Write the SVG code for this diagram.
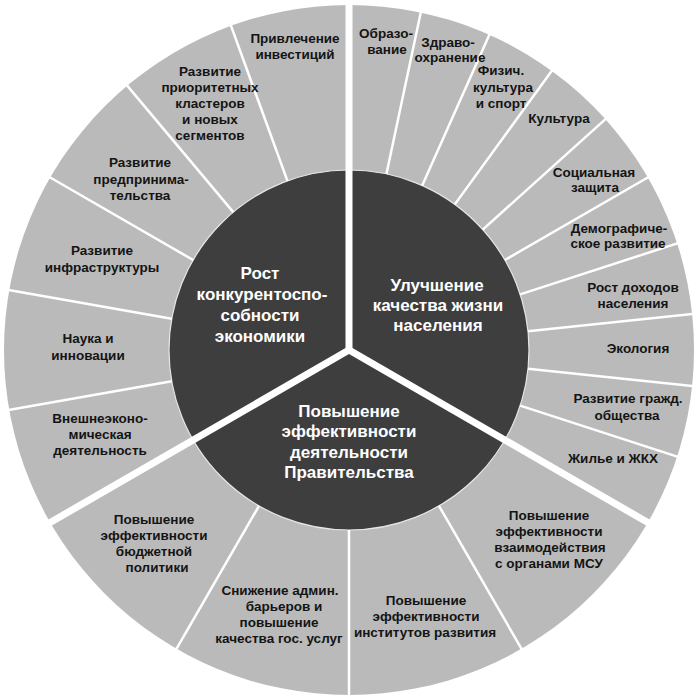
<svg xmlns="http://www.w3.org/2000/svg" width="697" height="700" viewBox="0 0 697 700">
<style>
.ring{fill:#bababa}
.core{fill:#3e3e3e;stroke:#e6e6e6;stroke-width:1.2}
.thin{stroke:#ffffff;stroke-width:2.5}
.thick{stroke:#ffffff;stroke-width:7}
.t{font-family:"Liberation Sans",Arial,sans-serif;font-weight:bold;font-size:13.5px;fill:#141414;text-anchor:middle}
.c{font-family:"Liberation Sans",Arial,sans-serif;font-weight:bold;font-size:17px;fill:#ffffff;text-anchor:middle}
</style>
<rect width="697" height="700" fill="#ffffff"/>
<circle class="ring" cx="349" cy="350" r="345"/>
<circle class="core" cx="349" cy="350" r="180"/>
<g id="connectors" transform="translate(349 350)">
  <g class="thin">
    <line x1="180" y1="0" x2="350" y2="0" transform="rotate(-78)"/>
    <line x1="180" y1="0" x2="350" y2="0" transform="rotate(-66)"/>
    <line x1="180" y1="0" x2="350" y2="0" transform="rotate(-54)"/>
    <line x1="180" y1="0" x2="350" y2="0" transform="rotate(-42)"/>
    <line x1="180" y1="0" x2="350" y2="0" transform="rotate(-30)"/>
    <line x1="180" y1="0" x2="350" y2="0" transform="rotate(-18)"/>
    <line x1="180" y1="0" x2="350" y2="0" transform="rotate(-6)"/>
    <line x1="180" y1="0" x2="350" y2="0" transform="rotate(6)"/>
    <line x1="180" y1="0" x2="350" y2="0" transform="rotate(18)"/>
    <line x1="180" y1="0" x2="350" y2="0" transform="rotate(60)"/>
    <line x1="180" y1="0" x2="350" y2="0" transform="rotate(90)"/>
    <line x1="180" y1="0" x2="350" y2="0" transform="rotate(120)"/>
    <line x1="180" y1="0" x2="350" y2="0" transform="rotate(170)"/>
    <line x1="180" y1="0" x2="350" y2="0" transform="rotate(190)"/>
    <line x1="180" y1="0" x2="350" y2="0" transform="rotate(210)"/>
    <line x1="180" y1="0" x2="350" y2="0" transform="rotate(230)"/>
    <line x1="180" y1="0" x2="350" y2="0" transform="rotate(250)"/>
  </g>
  <g class="thick">
    <line x1="0" y1="0" x2="352" y2="0" transform="rotate(-90)"/>
    <line x1="0" y1="0" x2="352" y2="0" transform="rotate(30)"/>
    <line x1="0" y1="0" x2="352" y2="0" transform="rotate(150)"/>
  </g>
</g>
<g id="center-economy"><text class="c" x="260" y="279">Рост</text><text class="c" x="262" y="300">конкурентоспо-</text><text class="c" x="260" y="321">собности</text><text class="c" x="260" y="342">экономики</text></g>
<g id="center-life"><text class="c" x="437" y="291">Улучшение</text><text class="c" x="438" y="311">качества жизни</text><text class="c" x="438" y="331">населения</text></g>
<g id="center-gov"><text class="c" x="349" y="417">Повышение</text><text class="c" x="349" y="437">эффективности</text><text class="c" x="349" y="458">деятельности</text><text class="c" x="349" y="478">Правительства</text></g>
<g id="n-invest"><text class="t" x="295" y="43">Привлечение</text><text class="t" x="295" y="59">инвестиций</text></g>
<g id="n-clusters"><text class="t" x="210" y="76">Развитие</text><text class="t" x="210" y="92">приоритетных</text><text class="t" x="210" y="108">кластеров</text><text class="t" x="210" y="124">и новых</text><text class="t" x="210" y="140">сегментов</text></g>
<g id="n-business"><text class="t" x="140" y="167">Развитие</text><text class="t" x="141" y="184">предпринима-</text><text class="t" x="140" y="200">тельства</text></g>
<g id="n-infra"><text class="t" x="102" y="255">Развитие</text><text class="t" x="102" y="272">инфраструктуры</text></g>
<g id="n-science"><text class="t" x="88" y="343">Наука и</text><text class="t" x="88" y="360">инновации</text></g>
<g id="n-foreign"><text class="t" x="100" y="423">Внешнеэконо-</text><text class="t" x="100" y="439">мическая</text><text class="t" x="100" y="455">деятельность</text></g>
<g id="n-edu"><text class="t" x="386" y="38">Образо-</text><text class="t" x="387" y="54">вание</text></g>
<g id="n-health"><text class="t" x="448" y="47">Здраво-</text><text class="t" x="450" y="62">охранение</text></g>
<g id="n-sport"><text class="t" x="501" y="75">Физич.</text><text class="t" x="503" y="92">культура</text><text class="t" x="501" y="108">и спорт</text></g>
<g id="n-culture"><text class="t" x="559" y="123">Культура</text></g>
<g id="n-social"><text class="t" x="594" y="177">Социальная</text><text class="t" x="595" y="192">защита</text></g>
<g id="n-demo"><text class="t" x="619" y="233">Демографиче-</text><text class="t" x="618" y="248">ское развитие</text></g>
<g id="n-income"><text class="t" x="633" y="292">Рост доходов</text><text class="t" x="633" y="308">населения</text></g>
<g id="n-ecology"><text class="t" x="638" y="353">Экология</text></g>
<g id="n-civil"><text class="t" x="628" y="403">Развитие гражд.</text><text class="t" x="627" y="420">общества</text></g>
<g id="n-housing"><text class="t" x="613" y="463">Жилье и ЖКХ</text></g>
<g id="n-msu"><text class="t" x="549" y="520">Повышение</text><text class="t" x="549" y="536">эффективности</text><text class="t" x="550" y="552">взаимодействия</text><text class="t" x="549" y="568">с органами МСУ</text></g>
<g id="n-institutes"><text class="t" x="426" y="605">Повышение</text><text class="t" x="426" y="621">эффективности</text><text class="t" x="425" y="637">институтов развития</text></g>
<g id="n-barriers"><text class="t" x="280" y="595">Снижение админ.</text><text class="t" x="284" y="611">барьеров и</text><text class="t" x="279" y="627">повышение</text><text class="t" x="279" y="643">качества гос. услуг</text></g>
<g id="n-budget"><text class="t" x="154" y="524">Повышение</text><text class="t" x="154" y="540">эффективности</text><text class="t" x="154" y="556">бюджетной</text><text class="t" x="157" y="572">политики</text></g>
</svg>
